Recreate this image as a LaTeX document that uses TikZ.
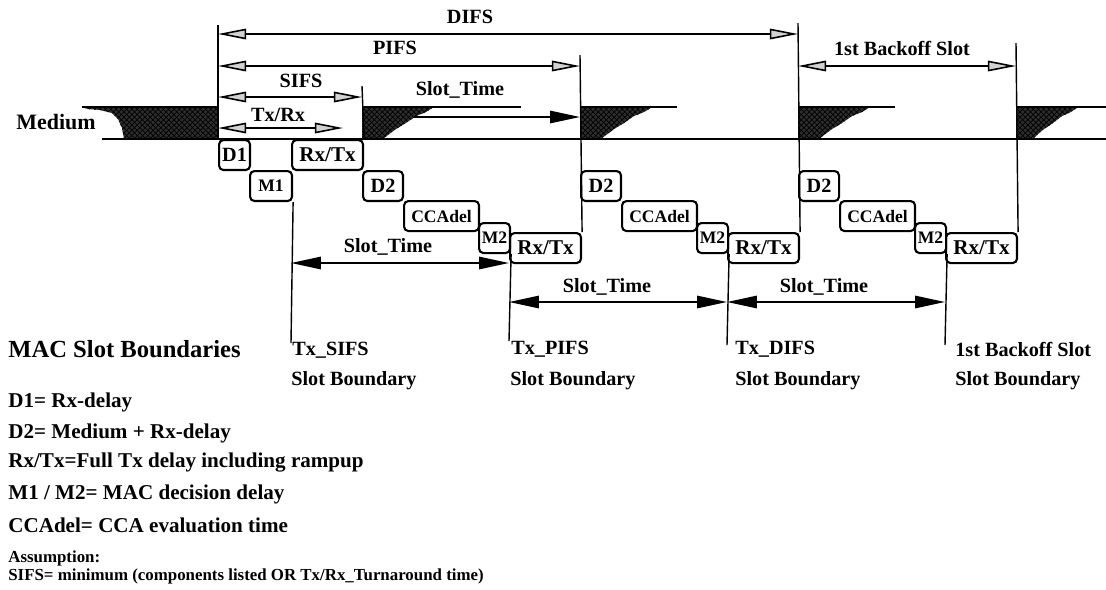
\documentclass[tikz,border=0pt]{standalone}
\usepackage{fontspec}
\setmainfont{Liberation Serif}
\usetikzlibrary{arrows.meta,patterns}

\begin{document}
\begin{tikzpicture}[x=0.02cm, y=-0.02cm,
  every node/.style={font=\bfseries\fontsize{11.5}{13}\selectfont, inner sep=0pt},
  span/.style={line width=0.9pt, {Triangle[length=16pt,width=6pt,fill=gray!35]}-{Triangle[length=16pt,width=6pt,fill=gray!35]}},
  slotarrow/.style={line width=1.1pt, {Triangle[length=17pt,width=7pt]}-{Triangle[length=17pt,width=7pt]}},
  bound/.style={line width=0.8pt},
  busy/.style={fill=black!82, postaction={pattern=crosshatch, pattern color=black}},
  delay/.style={draw, line width=1.2pt, rounded corners=2.5pt, anchor=north west, minimum height=0.6cm, font=\bfseries\fontsize{11.5}{13}\selectfont},
  small/.style={font=\bfseries\fontsize{10}{12}\selectfont},
  rxtx/.style={minimum width=1.42cm, font=\bfseries\fontsize{12}{14}\selectfont},
  legend/.style={anchor=west, font=\bfseries\fontsize{12}{14}\selectfont},
  note/.style={anchor=west, font=\bfseries\fontsize{9.6}{11}\selectfont}]
  \useasboundingbox (0,0) rectangle (1106,589);

  % medium line
  \fill[busy] (82,107) -- (218,107) -- (218,139) -- (124,139) -- (122,128) -- (118,119) -- (112,113) -- (100,110) -- (88,109) -- cycle;
  \draw[line width=1.2pt] (82,107) -- (218,107);
  \coordinate (slot0L) at (362,117);
  \coordinate (slot0R) at (580,117);
  \draw[line width=1.1pt, -{Triangle[length=17pt,width=7pt]}] (slot0L) -- (slot0R);
  \fill[busy] (362,107) -- ++(72,0) -- ++(-8,5) -- ++(-10,4) -- ++(-10,7) -- ++(-10,6) -- ++(-8,6) -- ++(-5,4) -- (362,139) -- cycle;
  \draw[line width=1.2pt] (362,107) -- (521,107);
  \fill[busy] (580,107) -- ++(72,0) -- ++(-8,5) -- ++(-10,4) -- ++(-10,7) -- ++(-10,6) -- ++(-8,6) -- ++(-5,4) -- (580,139) -- cycle;
  \draw[line width=1.2pt] (580,107) -- (677,107);
  \fill[busy] (798,107) -- ++(72,0) -- ++(-8,5) -- ++(-10,4) -- ++(-10,7) -- ++(-10,6) -- ++(-8,6) -- ++(-5,4) -- (798,139) -- cycle;
  \draw[line width=1.2pt] (798,107) -- (895,107);
  \fill[busy] (1016,107) -- ++(62,0) -- ++(-7,5) -- ++(-9,4) -- ++(-9,7) -- ++(-9,6) -- ++(-7,6) -- ++(-4,4) -- (1016,139) -- cycle;
  \draw[line width=1.2pt] (1016,107) -- (1106,107);
  \draw[line width=1.6pt] (102,139) -- (1106,139);
  \node[font=\bfseries\fontsize{12.5}{14}\selectfont] (medium) at (56,122) {Medium};

  % delay boxes
  \node[delay, minimum width=0.62cm] (d1) at (218,139) {D1};
  \node[delay, small, minimum width=0.84cm] (m1) at (249,170) {M1};
  \node[delay, rxtx] (rt1) at (291,139) {Rx/Tx};
  \node[delay, minimum width=0.8cm] (d2a) at (362,170) {D2};
  \node[delay, small, minimum width=1.5cm] (cca) at (403,200) {CCAdel};
  \node[delay, small, minimum width=0.62cm] (m2a) at (478,222) {M2};
  \node[delay, rxtx] (rt2) at (509,232) {Rx/Tx};
  \node[delay, minimum width=0.8cm] (d2b) at (580,170) {D2};
  \node[delay, small, minimum width=1.5cm] (ccb) at (621,200) {CCAdel};
  \node[delay, small, minimum width=0.62cm] (m2b) at (696,222) {M2};
  \node[delay, rxtx] (rt3) at (727,232) {Rx/Tx};
  \node[delay, minimum width=0.8cm] (d2c) at (798,170) {D2};
  \node[delay, small, minimum width=1.5cm] (ccc) at (839,200) {CCAdel};
  \node[delay, small, minimum width=0.62cm] (m2c) at (914,222) {M2};
  \node[delay, rxtx] (rt4) at (945,232) {Rx/Tx};

  % interframe spaces
  \coordinate (t0) at (218,25);
  \coordinate (t1) at (362,86);
  \coordinate (t2) at (580,55);
  \coordinate (t3) at (798,23);
  \coordinate (t4) at (1016,43);
  \draw[bound] (t0) -- (d1.north west);
  \draw[bound] (t1) -- (rt1.north east);
  \draw[bound] (t2) -- (rt2.north east);
  \draw[bound] (t3) -- (rt3.north east);
  \draw[bound] (t4) -- (rt4.north east);
  \coordinate (difsL) at (218,34);  \coordinate (difsR) at (798,34);
  \coordinate (pifsL) at (218,66);  \coordinate (pifsR) at (580,66);
  \coordinate (sifsL) at (218,97);  \coordinate (sifsR) at (362,97);
  \coordinate (txrxL) at (218,128); \coordinate (txrxR) at (343,128);
  \coordinate (boL) at (798,66);    \coordinate (boR) at (1016,66);
  \draw[span] (difsL) -- (difsR);
  \draw[span] (pifsL) -- (pifsR);
  \draw[span] (sifsL) -- (sifsR);
  \draw[span] (txrxL) -- (txrxR);
  \draw[span] (boL) -- (boR);
  \node (difs) at (470,17) {DIFS};
  \node (pifs) at (395,48) {PIFS};
  \node (sifs) at (301,81) {SIFS};
  \node (txrx) at (278,115) {Tx/Rx};
  \node (bo) at (902,48) {1st Backoff Slot};
  \node (st0) at (460,90) {Slot\_Time};

  % slot boundaries
  \coordinate (e1) at (291,343);
  \coordinate (e2) at (509,341);
  \coordinate (e3) at (727,345);
  \coordinate (e4) at (945,345);
  \draw[bound] (m1.south east) -- (e1);
  \draw[bound] (m2a.south east) -- (e2);
  \draw[bound] (m2b.south east) -- (e3);
  \draw[bound] (m2c.south east) -- (e4);
  \coordinate (slot1L) at (291,263); \coordinate (slot1R) at (509,263);
  \coordinate (slot2L) at (509,302); \coordinate (slot2R) at (727,302);
  \coordinate (slot3R) at (945,302);
  \draw[slotarrow] (slot1L) -- (slot1R);
  \draw[slotarrow] (slot2L) -- (slot2R);
  \draw[slotarrow] (slot2R) -- (slot3R);
  \node (st1) at (388,247) {Slot\_Time};
  \node (st2) at (607,287) {Slot\_Time};
  \node (st3) at (824,287) {Slot\_Time};
  \node[anchor=west] (bsifs) at (292,350) {Tx\_SIFS};
  \node[anchor=west] (bsifs2) at (291,381) {Slot Boundary};
  \node[anchor=west] (bpifs) at (511,349) {Tx\_PIFS};
  \node[anchor=west] (bpifs2) at (510,381) {Slot Boundary};
  \node[anchor=west] (bdifs) at (735,349) {Tx\_DIFS};
  \node[anchor=west] (bdifs2) at (735,381) {Slot Boundary};
  \node[anchor=west] (bbo) at (955,349) {1st Backoff Slot};
  \node[anchor=west] (bbo2) at (955,381) {Slot Boundary};

  % legend
  \node[legend, font=\bfseries\fontsize{14}{16}\selectfont] (mac) at (8,349) {MAC Slot Boundaries};
  \node[legend] (l1) at (8,402) {D1= Rx-delay};
  \node[legend] (l2) at (8,433) {D2= Medium + Rx-delay};
  \node[legend] (l3) at (8,463) {Rx/Tx=Full Tx delay including rampup};
  \node[legend] (l4) at (8,494) {M1 / M2= MAC decision delay};
  \node[legend] (l5) at (8,525) {CCAdel= CCA evaluation time};
  \node[note] (l6) at (8,558) {Assumption:};
  \node[note] (l7) at (8,576) {SIFS= minimum (components listed OR Tx/Rx\_Turnaround time)};
\end{tikzpicture}
\end{document}
